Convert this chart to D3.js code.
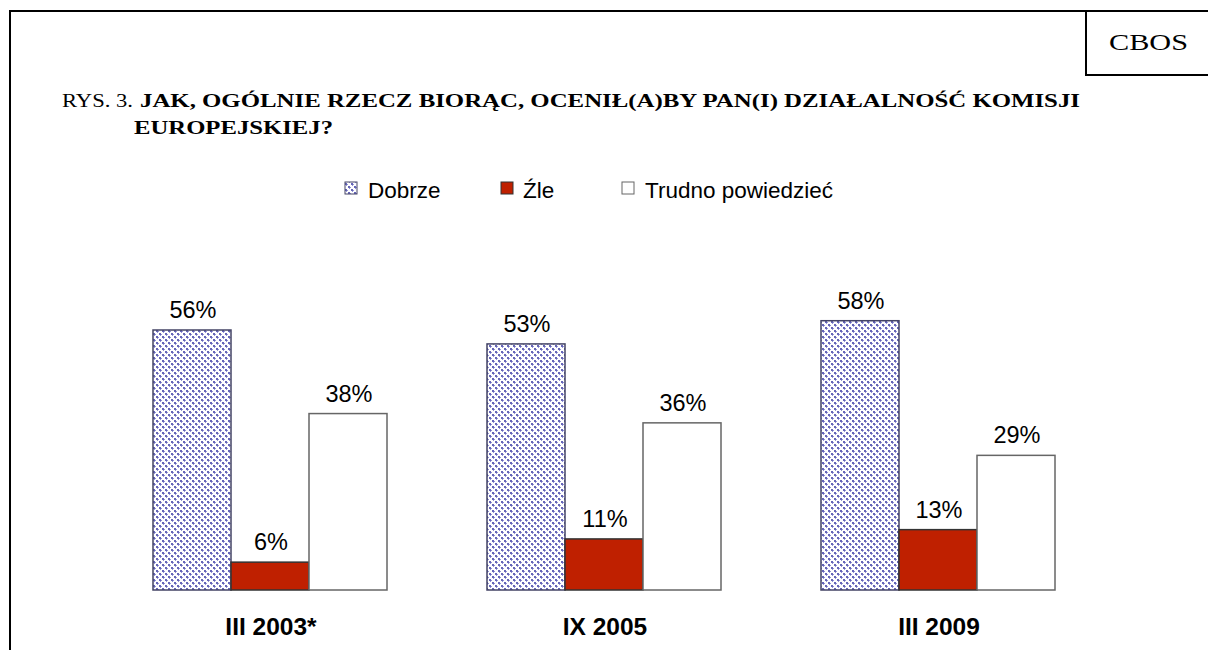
<!DOCTYPE html>
<html><head><meta charset="utf-8">
<script src="https://cdn.jsdelivr.net/npm/d3@7"></script>
<style>body{margin:0;background:#fff}svg{display:block}</style>
</head><body>
<script>
const categories = ["III 2003*", "IX 2005", "III 2009"];
const seriesNames = ["Dobrze", "Źle", "Trudno powiedzieć"];
const dobrze = [56, 53, 58];
const zle = [6, 11, 13];
const trudno = [38, 36, 29];
const seriesValues = [dobrze, zle, trudno];

const W = 1208, H = 650;
const svg = d3.select("body").append("svg").attr("width", W).attr("height", H);
const defs = svg.append("defs");
const pat = defs.append("pattern").attr("id", "dots").attr("patternUnits", "userSpaceOnUse")
  .attr("width", 6).attr("height", 6);
pat.append("rect").attr("width", 6).attr("height", 6).attr("fill", "#ffffff");
pat.append("rect").attr("x", 0).attr("y", 0).attr("width", 2).attr("height", 2).attr("fill", "#6666b8");
pat.append("rect").attr("x", 3).attr("y", 3).attr("width", 2).attr("height", 2).attr("fill", "#6666b8");
pat.append("rect").attr("x", 1).attr("y", 2).attr("width", 1).attr("height", 1).attr("fill", "#9494d4");
pat.append("rect").attr("x", 4).attr("y", 5).attr("width", 1).attr("height", 1).attr("fill", "#9494d4");
pat.append("rect").attr("x", 2).attr("y", 1).attr("width", 1).attr("height", 1).attr("fill", "#9494d4");
pat.append("rect").attr("x", 5).attr("y", 4).attr("width", 1).attr("height", 1).attr("fill", "#9494d4");

const fills = ["url(#dots)", "#bf2000", "#ffffff"];
const strokes = ["#444466", "#333333", "#666666"];

// frame
svg.append("line").attr("x1", 10).attr("y1", 11).attr("x2", W).attr("y2", 11).attr("stroke", "#000").attr("stroke-width", 2);
svg.append("line").attr("x1", 10).attr("y1", 10).attr("x2", 10).attr("y2", H).attr("stroke", "#000").attr("stroke-width", 2);
svg.append("line").attr("x1", 1086).attr("y1", 10).attr("x2", 1086).attr("y2", 76).attr("stroke", "#000").attr("stroke-width", 2);
svg.append("line").attr("x1", 1086).attr("y1", 75).attr("x2", W).attr("y2", 75).attr("stroke", "#000").attr("stroke-width", 2);
svg.append("text").attr("x", 1109).attr("y", 50)
  .attr("font-family", "Liberation Serif").attr("font-size", 24)
  .attr("textLength", 79).attr("lengthAdjust", "spacingAndGlyphs").text("CBOS");

// title
svg.append("text").attr("x", 62).attr("y", 107).attr("font-family", "Liberation Serif").attr("font-size", 19.5)
  .attr("textLength", 71).attr("lengthAdjust", "spacingAndGlyphs").text("RYS. 3.");
svg.append("text").attr("x", 140).attr("y", 107).attr("font-family", "Liberation Serif").attr("font-size", 19.5)
  .attr("font-weight", "bold").attr("textLength", 940).attr("lengthAdjust", "spacingAndGlyphs")
  .text("JAK, OGÓLNIE RZECZ BIORĄC, OCENIŁ(A)BY PAN(I) DZIAŁALNOŚĆ KOMISJI");
svg.append("text").attr("x", 134).attr("y", 134).attr("font-family", "Liberation Serif").attr("font-size", 19.5)
  .attr("font-weight", "bold").attr("textLength", 199).attr("lengthAdjust", "spacingAndGlyphs").text("EUROPEJSKIEJ?");

// legend
const legX = [345, 501, 622];
const legTX = [368, 523, 645];
const leg = svg.append("g");
seriesNames.forEach((n, i) => {
  leg.append("rect").attr("x", legX[i]).attr("y", 182).attr("width", 12).attr("height", 12)
    .attr("fill", fills[i]).attr("stroke", strokes[i]).attr("stroke-width", 1);
  leg.append("text").attr("x", legTX[i]).attr("y", 198)
    .attr("font-family", "Liberation Sans").attr("font-size", 22.5).text(n);
});

// scales
const x0 = d3.scaleBand().domain(categories).range([153, 1055]).paddingInner(100 / 334).paddingOuter(0);
const x1 = d3.scaleBand().domain(seriesNames).range([0, x0.bandwidth()]);
const y = d3.scaleLinear().domain([0, 56]).range([590, 330]);

const g = svg.append("g");
categories.forEach((c, ci) => {
  seriesNames.forEach((s, si) => {
    const v = seriesValues[si][ci];
    const bx = x0(c) + x1(s);
    g.append("rect").attr("x", bx).attr("y", y(v)).attr("width", x1.bandwidth()).attr("height", y(0) - y(v))
      .attr("fill", fills[si]).attr("stroke", strokes[si]).attr("stroke-width", 1.5);
    g.append("text").attr("x", bx + x1.bandwidth() / 2 + 1).attr("y", y(v) - 12).attr("text-anchor", "middle")
      .attr("font-family", "Liberation Sans").attr("font-size", 23.5).text(v + "%");
  });
  g.append("text").attr("x", x0(c) + x0.bandwidth() / 2 + 1).attr("y", 635).attr("text-anchor", "middle")
    .attr("font-family", "Liberation Sans").attr("font-size", 24.5).attr("font-weight", "bold").text(c);
});
</script>
</body></html>
